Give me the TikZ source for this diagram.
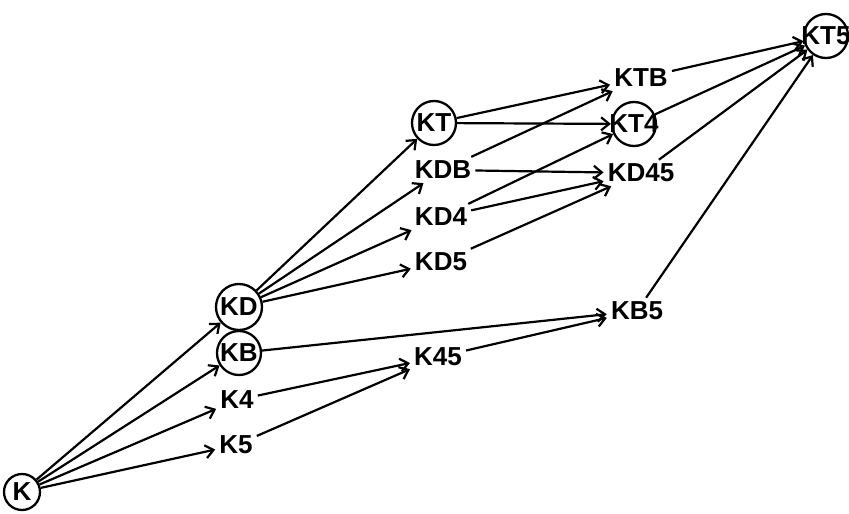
\documentclass[tikz,border=0pt]{standalone}
\usepackage{fontspec}
\setmainfont{Liberation Sans}
\usetikzlibrary{arrows.meta}
\begin{document}
\begin{tikzpicture}[x=1pt,y=-1pt,
  every node/.style={font=\fontsize{26}{30}\selectfont\bfseries},
  lbl/.style={inner sep=4pt},
  ring/.style={circle,draw,line width=2.3pt,minimum size=#1,inner sep=0pt},
  ring/.default=45pt,
  edge/.style={line width=2.2pt,-{Straight Barb[length=8pt,width=13pt,line width=2.2pt]}}]
\useasboundingbox (0,0) rectangle (849,514);
% first column
\node[ring=36pt,label=center:K] (K) at (22,492) {};
% second column
\node[ring=46pt,label=center:KD] (KD) at (239,307) {};
\node[ring=44pt,label=center:KB] (KB) at (239,353) {};
\node[lbl] (K4) at (237,400) {K4};
\node[lbl] (K5) at (236,445) {K5};
% third column
\node[ring=44pt,label=center:KT] (KT) at (434,123) {};
\node[lbl] (KDB) at (443,170) {KDB};
\node[lbl] (KD4) at (441,217) {KD4};
\node[lbl] (KD5) at (441,262) {KD5};
\node[lbl] (K45) at (438,357) {K45};
% fourth column
\node[lbl] (KTB) at (641,78) {KTB};
\node[ring=44pt,label=center:KT4] (KT4) at (634,124) {};
\node[lbl] (KD45) at (641,173) {KD45};
\node[lbl] (KB5) at (637,311) {KB5};
% sink
\node[ring=44pt,label=center:KT5] (KT5) at (826,36) {};
% connectors
\foreach \a/\b in {K/KD,K/KB,K/K4,K/K5,
  KD/KT,KD/KDB,KD/KD4,KD/KD5,KB/KB5,K4/K45,K5/K45,K45/KB5,
  KT/KTB,KT/KT4,KDB/KTB,KDB/KD45,KD4/KT4,KD4/KD45,KD5/KD45,
  KTB/KT5,KT4/KT5,KD45/KT5,KB5/KT5}
  \draw[edge] (\a) -- (\b);
\end{tikzpicture}
\end{document}
